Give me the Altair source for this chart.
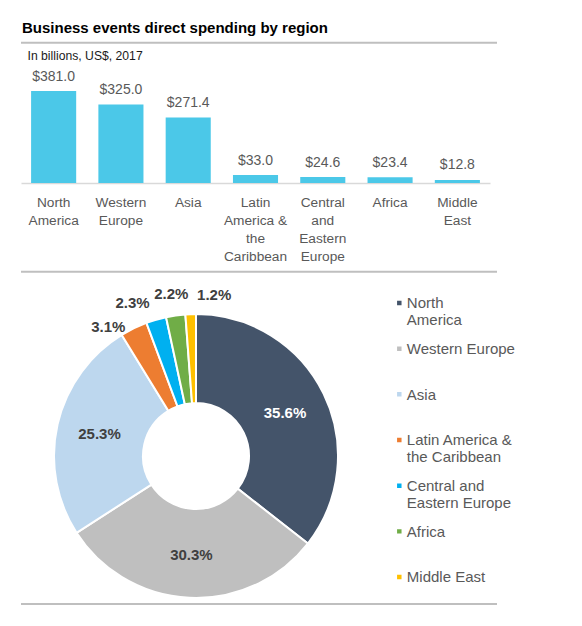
import altair as alt
import pandas as pd

# ---- data ----
regions = ["North America", "Western Europe", "Asia", "Latin America & the Caribbean",
           "Central and Eastern Europe", "Africa", "Middle East"]
axis_labels = ["North|America", "Western|Europe", "Asia", "Latin|America &|the|Caribbean",
               "Central|and|Eastern|Europe", "Africa", "Middle|East"]
legend_labels = ["North|America", "Western Europe", "Asia", "Latin America &|the Caribbean",
                 "Central and|Eastern Europe", "Africa", "Middle East"]
spending = [381.0, 325.0, 271.4, 33.0, 24.6, 23.4, 12.8]
slice_colors = ["#44546A", "#BFBFBF", "#BDD7EE", "#ED7D31", "#00B0F0", "#70AD47", "#FFC000"]
title_text = ["Business events direct spending by region"]
subtitle_text = ["In billions, US$, 2017"]

df = pd.DataFrame({
    "region": regions,
    "axis_label": axis_labels,
    "legend_label": legend_labels,
    "value": spending,
    "order": list(range(len(regions))),
})

FONT = "Liberation Sans"
GRAY = "#595959"
RULE = "#BFBFBF"

# ---------------- top panel: bars ----------------
x_enc = alt.X(
    "axis_label:N", sort=axis_labels, title=None,
    scale=alt.Scale(paddingInner=0.33, paddingOuter=0.15),
    axis=alt.Axis(labelExpr="split(datum.label, '|')", labelAngle=0, ticks=False, tickSize=0,
                  grid=False, domainColor="#D9D9D9", domainWidth=1.5,
                  labelFont=FONT, labelFontSize=13.7, labelColor=GRAY,
                  labelPadding=12.6, labelLineHeight=18, labelOverlap=False, labelLimit=200),
)
y_enc = alt.Y("value:Q", scale=alt.Scale(domain=[0, 725], nice=False), axis=None)

base_bar = alt.Chart(df)
bars = base_bar.mark_bar(color="#4BC8E8").encode(x=x_enc, y=y_enc)
bar_values = base_bar.mark_text(dy=-10.5, fontSize=14, font=FONT, color=GRAY,
                                baseline="alphabetic").encode(
    x=x_enc, y=y_enc, text=alt.Text("value:Q", format="$.1f"))

title_mark = alt.Chart(pd.DataFrame({"t": title_text})).mark_text(
    align="left", baseline="alphabetic", fontSize=15, fontWeight="bold", font=FONT, color="#000000"
).encode(text="t:N", x=alt.value(1), y=alt.value(25.3))

subtitle_mark = alt.Chart(pd.DataFrame({"t": subtitle_text})).mark_text(
    align="left", baseline="alphabetic", fontSize=12.2, font=FONT, color="#1A1A1A"
).encode(text="t:N", x=alt.value(6.5), y=alt.value(51.5))

one = pd.DataFrame({"k": [0]})
top_rule = alt.Chart(one).mark_rule(color=RULE, strokeWidth=2).encode(
    x=alt.value(0), x2=alt.value(476), y=alt.value(34.7))
mid_rule = alt.Chart(one).mark_rule(color=RULE, strokeWidth=2).encode(
    x=alt.value(0), x2=alt.value(476), y=alt.value(263.7))

panel_a = alt.layer(title_mark, subtitle_mark, top_rule, mid_rule, bars, bar_values).properties(
    width=469, height=175)

# ---------------- bottom panel: donut ----------------
donut_base = (
    alt.Chart(df)
    .transform_joinaggregate(total="sum(value)")
    .transform_window(cum="sum(value)", sort=[alt.SortField("order")])
    .transform_calculate(
        start="(datum.cum - datum.value) / datum.total",
        end="datum.cum / datum.total",
        mid="(datum.cum - datum.value / 2) / datum.total",
        share="datum.value / datum.total",
    )
)

theta_scale = alt.Scale(domain=[0, 1])

arcs = donut_base.mark_arc(outerRadius=142, innerRadius=53, stroke="white", strokeWidth=2).encode(
    theta=alt.Theta("start:Q", scale=theta_scale),
    theta2="end:Q",
    color=alt.Color(
        "legend_label:N", sort=legend_labels,
        scale=alt.Scale(domain=legend_labels, range=slice_colors),
        legend=alt.Legend(
            title=None, orient="none", legendX=370.8, legendY=279.4, direction="vertical",
            symbolType="M-1,-3.41H1V-1.41H-1Z", symbolSize=20, symbolStrokeWidth=0,
            labelExpr="split(datum.label, '|')", labelFont=FONT, labelFontSize=15,
            labelColor=GRAY, labelBaseline="alphabetic", labelOffset=0,
            clipHeight=42, rowPadding=3.67, padding=0, labelLimit=220,
        ),
    ),
)

inner_labels = donut_base.transform_filter("datum.share >= 0.1").mark_text(
    radius=99, fontSize=15, fontWeight="bold", font=FONT, baseline="middle"
).encode(
    theta=alt.Theta("mid:Q", scale=theta_scale),
    text=alt.Text("share:Q", format=".1%"),
    color=alt.condition("datum.order == 0", alt.value("#FFFFFF"), alt.value("#404040")),
)

# small slices: labels outside the ring, nudged apart like the original
outer_nudges = [
    ("Latin America & the Caribbean", -17.6, 14.5),
    ("Central and Eastern Europe", -18.6, 0.9),
    ("Africa", -1.8, -3.3),
    ("Middle East", 24.2, -0.8),
]
outer_layers = []
for name, ddx, ddy in outer_nudges:
    outer_layers.append(
        donut_base.transform_filter(alt.datum.region == name).mark_text(
            radius=160, dx=ddx, dy=ddy, fontSize=15, fontWeight="bold", font=FONT,
            color="#404040", baseline="middle"
        ).encode(
            theta=alt.Theta("mid:Q", scale=theta_scale),
            text=alt.Text("share:Q", format=".1%"),
        )
    )

bottom_rule = alt.Chart(one).mark_rule(color=RULE, strokeWidth=2).encode(
    x=alt.value(0), x2=alt.value(476), y=alt.value(298))

panel_b = alt.layer(arcs, inner_labels, *outer_layers, bottom_rule).properties(width=350, height=300)

chart = (
    alt.vconcat(panel_a, panel_b, spacing=123, bounds="flush")
    .properties(padding={"left": 12, "top": 0, "right": 5, "bottom": 0})
    .configure(font=FONT)
    .configure_view(strokeWidth=0, stroke="transparent")
)

chart.save("out.html", embed_options={"renderer": "svg", "actions": False})
